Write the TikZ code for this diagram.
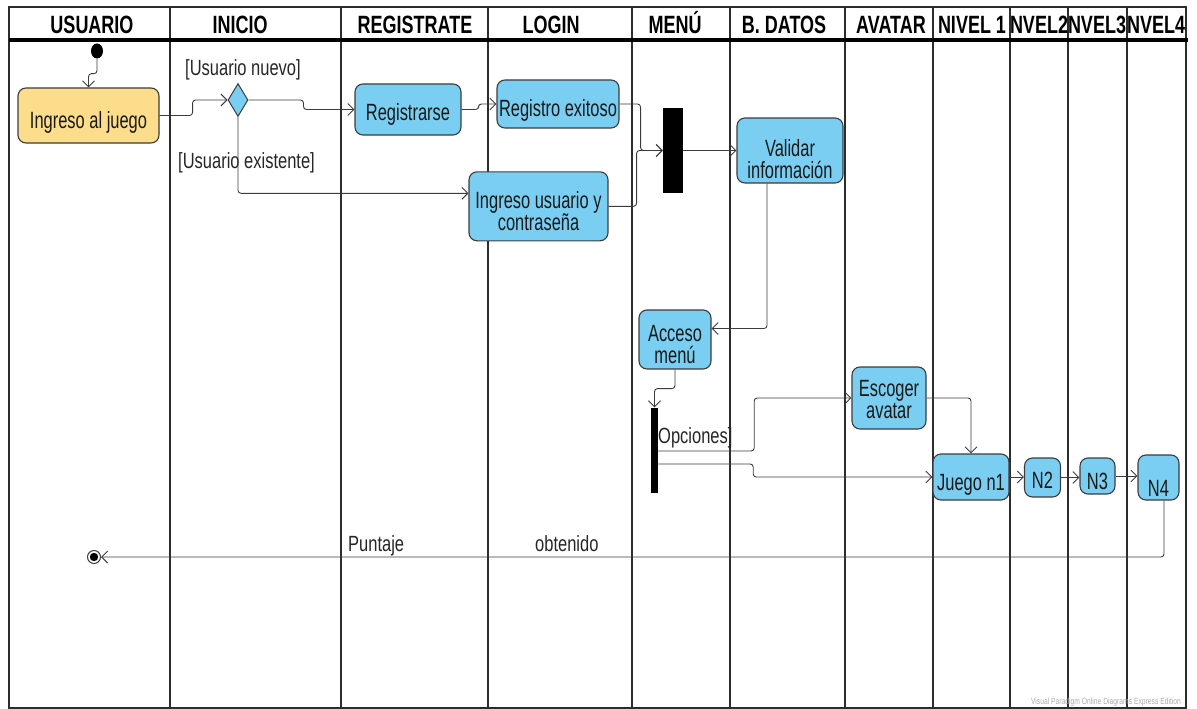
\documentclass[tikz,border=0pt]{standalone}
\usepackage{fontspec}
\usetikzlibrary{arrows.meta,shapes.geometric,calc}
\newfontfamily\narrow[FakeStretch=0.70]{Liberation Sans}
\newfontfamily\lblfont[FakeStretch=0.75]{Liberation Sans}
\newfontfamily\headfont[FakeStretch=0.72]{Liberation Sans}
\definecolor{actblue}{RGB}{122,206,242}
\definecolor{startyellow}{RGB}{252,221,140}
\definecolor{edge}{RGB}{60,60,60}
\definecolor{lane}{RGB}{45,45,45}
% two centred lines, baseline of the box on the last line
\newcommand\twoline[2]{\vbox{\baselineskip=21.5pt\lineskiplimit=-100pt\halign{\hfil##\hfil\cr#1\cr#2\cr}}}

\begin{document}
\begin{tikzpicture}[x=1pt,y=-1pt,
  act/.style={draw=edge, line width=1.1pt, rounded corners=8pt, fill=actblue,
    inner sep=0pt, text depth=0pt, font=\narrow\fontsize{23.5}{21.5}\selectfont, text=black!90},
  conn/.style={draw=edge, line width=0.9pt, rounded corners=3pt,
    -{Straight Barb[length=6pt,width=12pt]}},
  lbl/.style={font=\lblfont\fontsize{22}{24}\selectfont, inner sep=0pt, text=black!85, anchor=base west},
  head/.style={font=\headfont\bfseries\fontsize{25}{27}\selectfont, inner sep=0pt,
    text height=18pt, text depth=0pt},
  laneline/.style={draw=lane, line width=1.8pt},
  bar/.style={fill=black, inner sep=0pt}]

\useasboundingbox (0,0) rectangle (1197,709);

% swimlanes
\draw[laneline] (9,7) rectangle (1186,708);
\foreach \x in {170,341,488,632,730,845,933,1010,1068,1127}
  \draw[laneline] (\x,7) -- (\x,708);
\draw[black, line width=3.2pt] (9,40) -- (1188,40);

% lane headers
\node[head] (hUsuario) at (92,25) {USUARIO};
\node[head] (hInicio) at (240,25) {INICIO};
\node[head] (hRegistrate) at (415,25) {REGISTRATE};
\node[head] (hLogin) at (551,25) {LOGIN};
\node[head] (hMenu) at (675,25) {MENÚ};
\node[head] (hDatos) at (784,25) {B. DATOS};
\node[head] (hAvatar) at (891,25) {AVATAR};
\node[head] (hNivelA) at (972,25) {NIVEL 1};
\node[head] (hNivelB) at (1039,25) {NVEL2};
\node[head] (hNivelC) at (1097,25) {NVEL3};
\node[head] (hNivelD) at (1156,25) {NVEL4};

% activities (text height sets how far the last baseline sits below the centre)
\node[ellipse, fill=black, minimum width=12pt, minimum height=15pt, inner sep=0pt] (start) at (97,51) {};
\node[act, fill=startyellow, minimum width=141pt, minimum height=55pt, text height=25.6pt] (ingreso) at (88.5,115.5) {Ingreso al juego};
\node[diamond, draw=edge, fill=actblue, line width=1pt, minimum width=20pt, minimum height=33pt, inner sep=0pt] (dec) at (238,100) {};
\node[act, minimum width=106pt, minimum height=51pt, text height=21pt] (registrarse) at (408,109.5) {Registrarse};
\node[act, minimum width=122pt, minimum height=48pt, text height=25.4pt] (exito) at (558,104) {Registro exitoso};
\node[act, minimum width=139pt, minimum height=69pt, text height=47.4pt] (ingusr) at (538.5,206.3) {\twoline{Ingreso usuario y}{contraseña}};
\node[bar, minimum width=20pt, minimum height=85pt] (forkA) at (673,150.5) {};
\node[act, minimum width=106pt, minimum height=65pt, text height=55pt] (validar) at (790,150.5) {\twoline{Validar}{información}};
\node[act, minimum width=72pt, minimum height=59pt, text height=47.6pt] (acceso) at (675,339.5) {\twoline{Acceso}{menú}};
\node[bar, minimum width=7pt, minimum height=85pt] (forkB) at (654.5,450) {};
\node[act, minimum width=74pt, minimum height=62pt, text height=40.6pt] (escoger) at (889,398) {\twoline{Escoger}{avatar}};
\node[act, minimum width=76pt, minimum height=46pt, text height=26pt] (juego) at (971,477) {Juego n1};
\node[act, minimum width=36pt, minimum height=39pt, text height=22pt] (n2) at (1042.5,477.5) {N2};
\node[act, minimum width=35pt, minimum height=36pt, text height=26pt] (n3) at (1097.5,476) {N3};
\node[act, minimum width=41pt, minimum height=45pt, text height=37pt] (n4) at (1158.5,477.5) {N4};
\node[circle, draw=edge, line width=1pt, fill=white, minimum size=13pt, inner sep=0pt] (final) at (94,557) {};
\fill[black] (final.center) circle (4.2pt);

% guards and notes
\node[lbl] (gNuevo) at (185,76) {[Usuario nuevo]};
\node[lbl] (gExiste) at (178,168) {[Usuario existente]};
\node[lbl] (gOpc) at (658,443) {Opciones]};
\node[lbl] (tPunt) at (348,551) {Puntaje};
\node[lbl] (tObt) at (535,551) {obtenido};

% flows
\draw[conn] (start.south) -- ++(0,15) -| (ingreso.north);
\draw[conn] (ingreso.east) -- ++(33,0) |- (dec.west);
\draw[conn] (dec.east) -- ++(55,0) |- (registrarse.west);
\draw[conn] (dec.south) |- ([yshift=13pt]ingusr.west);
\draw[conn] (registrarse.east) -- ++(17,0) |- (exito.west);
\draw[conn] (exito.east) -- ++(21,0) |- (forkA.west);
\draw[conn] (ingusr.east) -- ++(28,0) |- (forkA.west);
\draw[conn] (forkA.east) -- (forkA.east -| validar.west);
\draw[conn] ([xshift=-23pt]validar.south) |- ([yshift=11pt]acceso.east);
\draw[conn] (acceso.south) -- ++(0,19) -| (forkB.north);
\draw[conn] ([yshift=-1pt]forkB.east) -- ++(96,0) |- (escoger.west);
\draw[conn] ([yshift=-14pt]forkB.east) -- ++(95,0) |- (juego.west);
\draw[conn] (escoger.east) -| (juego.north);
\draw[conn] (juego.east) -- (juego.east -| n2.west);
\draw[conn] (n2.east) -- (n2.east -| n3.west);
\draw[conn] (n3.east) -- (n3.east -| n4.west);
\draw[conn] ([xshift=5.5pt]n4.south) |- (final.east);

% edition mark
\node[font=\lblfont\fontsize{9}{10}\selectfont, text=gray!65, inner sep=0pt] (mark) at (1106,702) {Visual Paradigm Online Diagrams Express Edition};
\end{tikzpicture}
\end{document}
